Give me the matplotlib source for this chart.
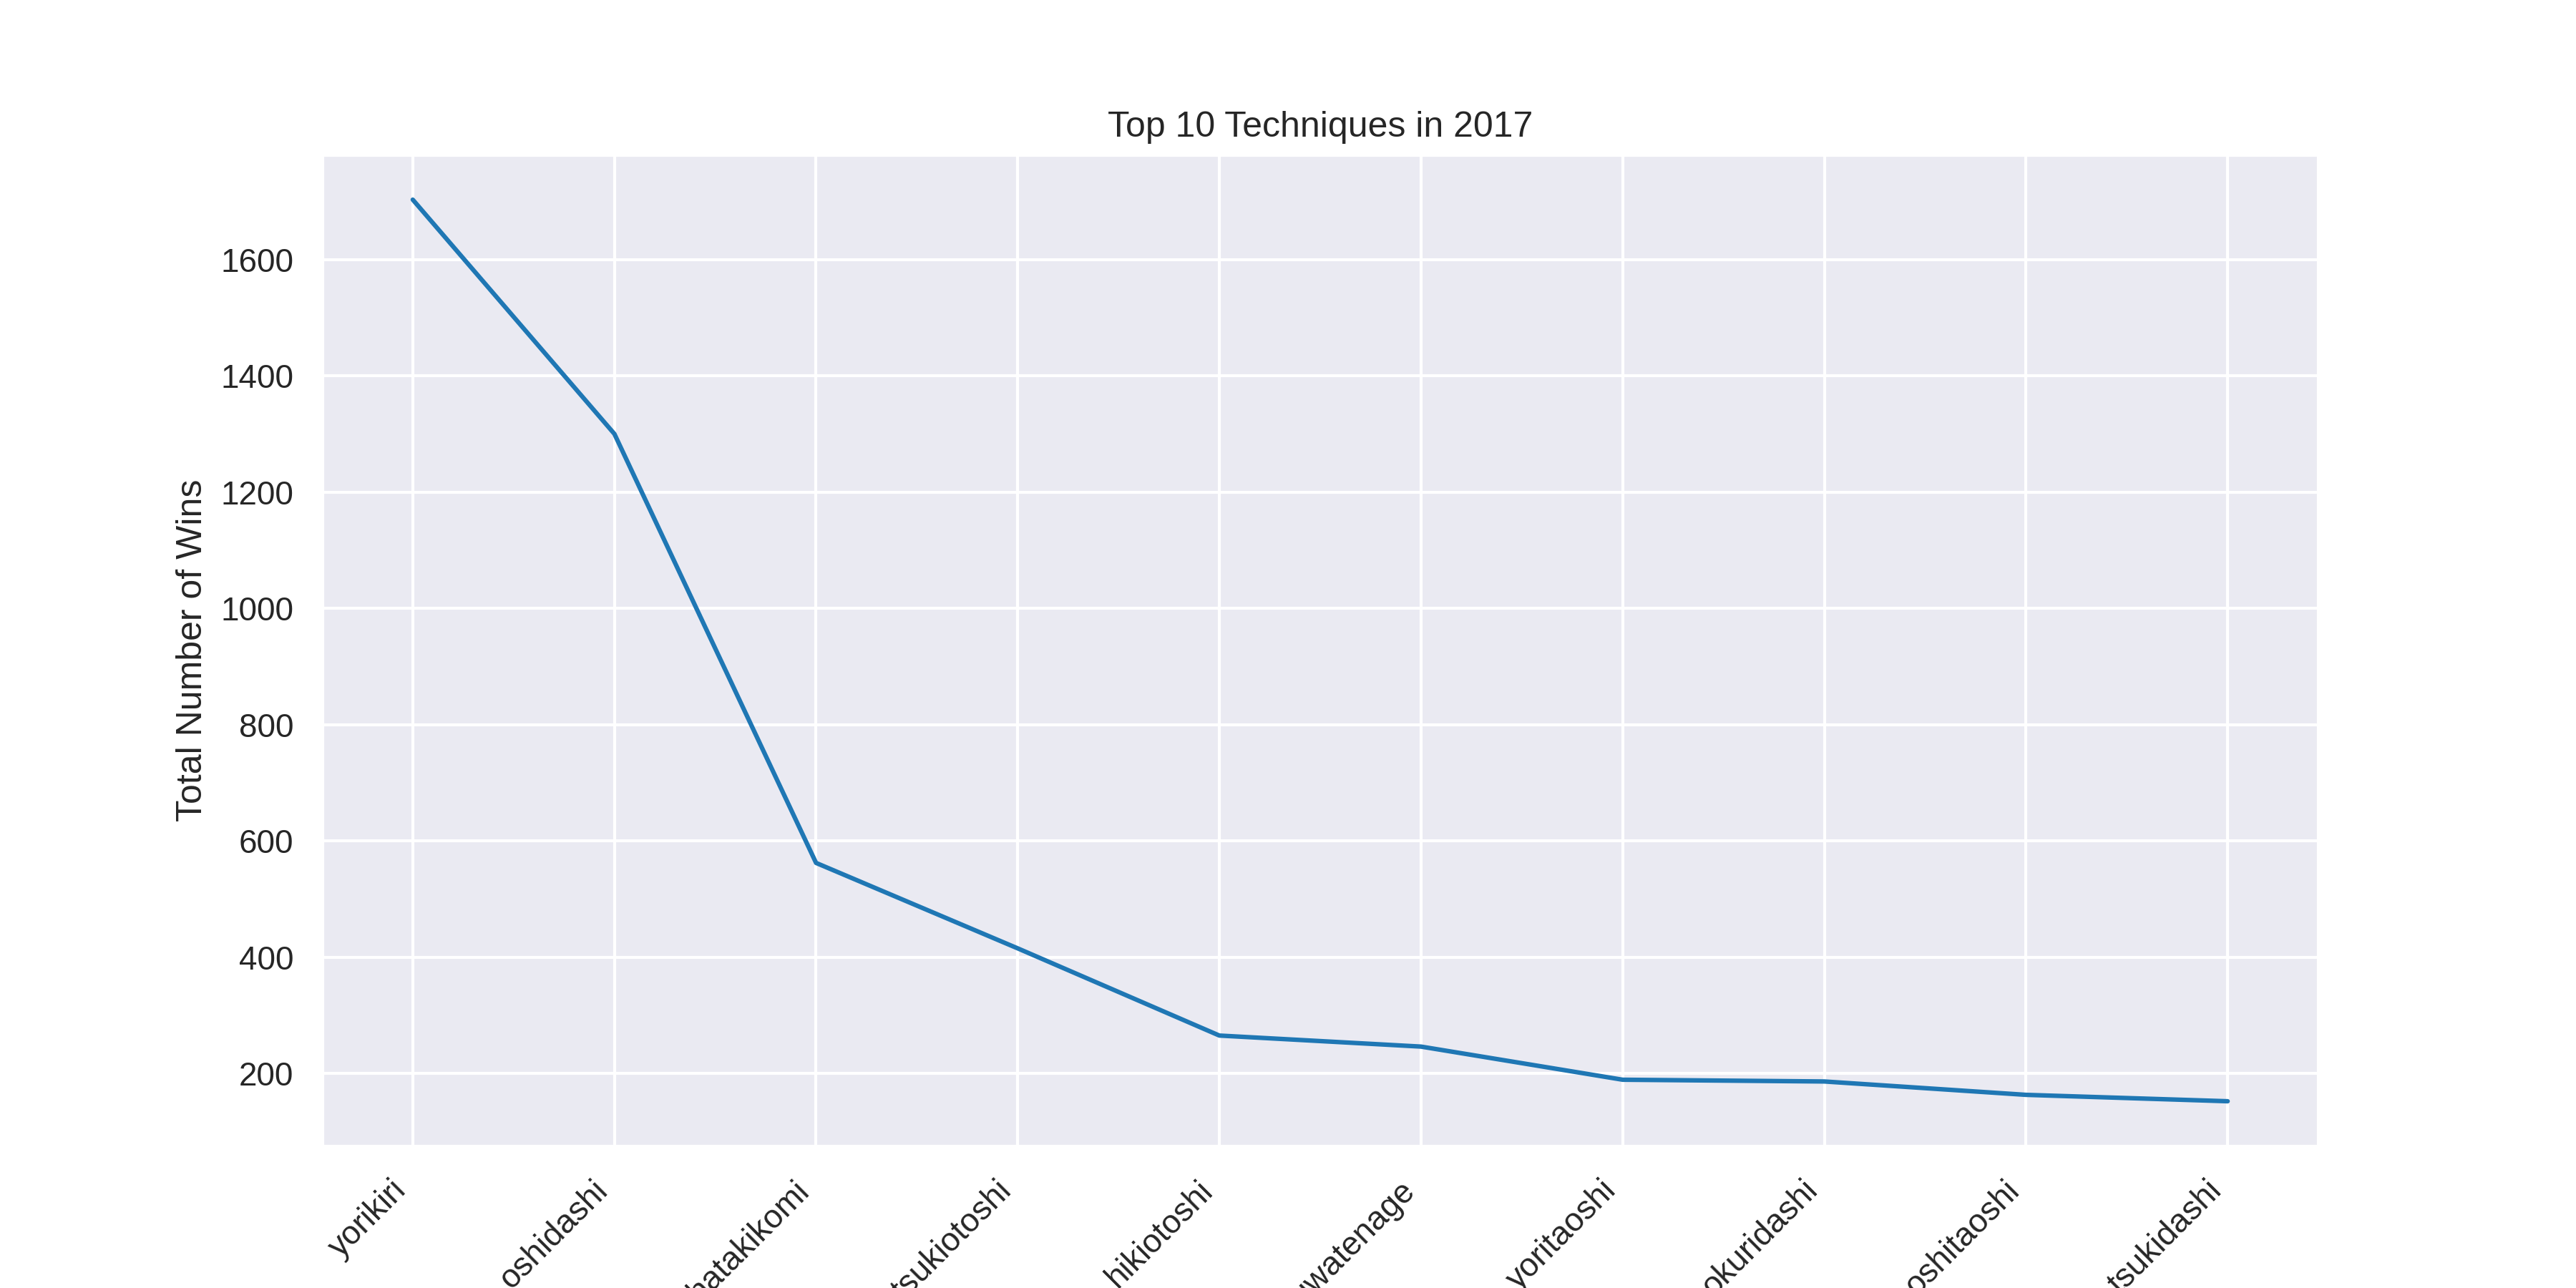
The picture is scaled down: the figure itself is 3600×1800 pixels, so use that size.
import numpy as np
import seaborn as sns
from matplotlib import pyplot as plt

sns.set_theme(style="darkgrid")
plt.rcParams["font.family"] = ["Liberation Sans", "DejaVu Sans"]

techniques = ["yorikiri", "oshidashi", "hatakikomi", "tsukiotoshi", "hikiotoshi",
              "uwatenage", "yoritaoshi", "okuridashi", "oshitaoshi", "tsukidashi"]
wins = [1703, 1300, 562, 415, 265, 246, 189, 186, 163, 152]

fig, ax = plt.subplots(figsize=(12, 6), dpi=300)
ax.plot(techniques, wins, color="#1f77b4")
ax.set_title("Top 10 Techniques in 2017")
ax.set_ylabel("Total Number of Wins")
plt.setp(ax.get_xticklabels(), rotation=45, ha="right")

plt.savefig("out.png", dpi=300)
